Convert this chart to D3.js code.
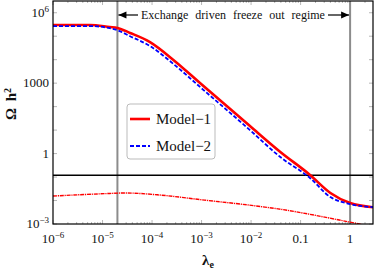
<!DOCTYPE html>
<html>
<head>
<meta charset="utf-8">
<script src="https://cdn.jsdelivr.net/npm/d3@7"></script>
<style>
    body { margin: 0; background: #fff; }
    svg { display: block; }
    svg text { font-family: 'Liberation Serif', 'DejaVu Serif', serif; fill: #111; }
</style>
</head>
<body>
<svg id="chart" width="374" height="273"></svg>
<script>
'use strict';

// Data
const lambdaVals = [1e-6, 5.6e-6, 1.4e-5, 2e-5, 3.6e-5, 9.1e-5, 2.7e-4, 9.3e-4, 9.5e-3, 0.039, 0.155, 0.4, 1.0, 2.9];
const model1 = [3.0e5, 3.0e5, 2.45e5, 2.24e5, 1.38e5, 5.6e4, 9800, 1020, 14.8, 1.17, 0.123, 0.021, 0.0078, 0.0052];
const model2 = [2.7e5, 2.7e5, 2.2e5, 1.8e5, 1.0e5, 3.8e4, 6600, 690, 10, 0.71, 0.091, 0.014, 0.0071, 0.0052];

const lambdaLow = [1e-6, 1.4e-5, 2.8e-5, 1.5e-4, 1.15e-3, 8.5e-3, 0.035, 1.0, 2.0];
const lowerCurve = [0.0155, 0.020, 0.021, 0.017, 0.0104, 0.0065, 0.0044, 0.0012, 0.0009];

const planckValue = 0.12;
const regimeBounds = [2e-5, 1.0];

const xTicks = [1e-6, 1e-5, 1e-4, 1e-3, 1e-2, 0.1, 1];
const xTickLabels = ['10^-6', '10^-5', '10^-4', '10^-3', '10^-2', '0.1', '1'];
const yTicks = [1e-3, 1, 1000, 1e6];
const yTickLabels = ['10^-3', '1', '1000', '10^6'];

const seriesNames = ['Model\u22121', 'Model\u22122'];

(function () {

    const svg = d3.select('#chart');

    // Plot box
    const box = {'left': 53, 'right': 373, 'top': 1, 'bottom': 224};

    const scX = d3.scaleLog()
        .domain([1e-6, 2.9])
        .range([box.left, box.right]);

    const scY = d3.scaleLog()
        .domain([1e-3, Math.pow(10, 6.5)])
        .range([box.bottom, box.top]);

    svg.append('defs').append('clipPath')
        .attr('id', 'clip')
        .append('rect')
            .attr('x', box.left)
            .attr('y', box.top)
            .attr('width', box.right - box.left)
            .attr('height', box.bottom - box.top);

    // Write "10^-6" style labels with a superscript
    function powLabel(sel, str, supSize) {
        const parts = str.split('^');
        sel.append('tspan').text(parts[0]);
        if (parts.length > 1) {
            sel.append('tspan')
                .attr('dy', '-0.55em')
                .style('font-size', supSize)
                .text(parts[1].replace('-', '\u2212'));
        }
    }

    // Ticks (inward, on all sides)
    const tickG = svg.append('g').attr('class', 'ticks')
        .attr('stroke', '#999').attr('stroke-width', 0.7);

    const xMinor = [];
    for (let e = -6; e <= 0; e++) {
        for (let m = 2; m <= 9; m++) {
            const v = m * Math.pow(10, e);
            if (v <= 2.9) xMinor.push(v);
        }
    }
    xMinor.forEach((v) => {
        [[box.bottom, -2], [box.top, 2]].forEach(([y0, dy]) => {
            tickG.append('line')
                .attr('x1', scX(v)).attr('x2', scX(v))
                .attr('y1', y0).attr('y2', y0 + dy);
        });
    });
    xTicks.forEach((v) => {
        [[box.bottom, -4], [box.top, 4]].forEach(([y0, dy]) => {
            tickG.append('line')
                .attr('x1', scX(v)).attr('x2', scX(v))
                .attr('y1', y0).attr('y2', y0 + dy);
        });
    });
    for (let e = -3; e <= 6; e++) {
        const v = Math.pow(10, e);
        [[box.left, 4], [box.right, -4]].forEach(([x0, dx]) => {
            tickG.append('line')
                .attr('x1', x0).attr('x2', x0 + dx)
                .attr('y1', scY(v)).attr('y2', scY(v));
        });
    }

    // Tick labels
    xTicks.forEach((v, i) => {
        const t = svg.append('text')
            .attr('x', scX(v))
            .attr('y', 243)
            .attr('text-anchor', 'middle')
            .style('font-size', '13px');
        powLabel(t, xTickLabels[i], '9px');
    });
    yTicks.forEach((v, i) => {
        const t = svg.append('text')
            .attr('x', 49)
            .attr('y', scY(v) + 4)
            .attr('text-anchor', 'end')
            .style('font-size', '13px');
        powLabel(t, yTickLabels[i], '9px');
    });

    // Axis titles
    const xt = svg.append('text')
        .attr('x', 208)
        .attr('y', 265)
        .attr('text-anchor', 'middle')
        .style('font-size', '15px')
        .style('font-weight', 'bold');
    xt.append('tspan').text('\u03bb');
    xt.append('tspan').attr('dy', '0.3em').style('font-size', '10px').text('e');

    const yt = svg.append('text')
        .attr('transform', 'translate(16, 104) rotate(-90)')
        .attr('text-anchor', 'middle')
        .style('font-size', '15px')
        .style('font-weight', 'bold')
        .style('word-spacing', '3px');
    yt.append('tspan').text('\u03a9 h');
    yt.append('tspan').attr('dy', '-0.5em').style('font-size', '10px').text('2');

    // Plot content
    const plot = svg.append('g').attr('clip-path', 'url(#clip)');

    regimeBounds.forEach((v) => {
        plot.append('line')
            .attr('x1', scX(v)).attr('x2', scX(v))
            .attr('y1', box.top).attr('y2', box.bottom)
            .attr('stroke', '#8c8c8c')
            .attr('stroke-width', 2);
    });

    plot.append('line')
        .attr('x1', box.left).attr('x2', box.right)
        .attr('y1', scY(planckValue)).attr('y2', scY(planckValue))
        .attr('stroke', '#000')
        .attr('stroke-width', 1.5);

    const line = d3.line()
        .x((d) => scX(d[0]))
        .y((d) => scY(d[1]))
        .curve(d3.curveMonotoneX);

    plot.append('path')
        .datum(lambdaLow.map((l, i) => [l, lowerCurve[i]]))
        .attr('d', line)
        .attr('fill', 'none')
        .attr('stroke', '#ff0000')
        .attr('stroke-width', 1.4)
        .attr('stroke-dasharray', '4,0.8,1.2,0.8');

    plot.append('path')
        .datum(lambdaVals.map((l, i) => [l, model1[i]]))
        .attr('d', line)
        .attr('fill', 'none')
        .attr('stroke', '#ff0000')
        .attr('stroke-width', 2.6);

    plot.append('path')
        .datum(lambdaVals.map((l, i) => [l, model2[i]]))
        .attr('d', line)
        .attr('fill', 'none')
        .attr('stroke', '#0000ff')
        .attr('stroke-width', 1.8)
        .attr('stroke-dasharray', '4,2');

    // Frame
    svg.append('rect')
        .attr('x', box.left).attr('y', box.top)
        .attr('width', box.right - box.left)
        .attr('height', box.bottom - box.top)
        .attr('fill', 'none')
        .attr('stroke', '#000')
        .attr('stroke-width', 1.2);

    // Regime annotation with arrows
    const ann = svg.append('g').style('font-size', '12px');
    ann.append('text')
        .attr('x', 141)
        .attr('y', 19)
        .style('word-spacing', '4px')
        .text('Exchange driven freeze out regime');

    const arrowY = 15;
    [[138, scX(regimeBounds[0]) + 1], [328, scX(regimeBounds[1]) - 1]].forEach(([x0, x1]) => {
        ann.append('line')
            .attr('x1', x0).attr('x2', x1)
            .attr('y1', arrowY).attr('y2', arrowY)
            .attr('stroke', '#000').attr('stroke-width', 1.2);
        const dir = x1 > x0 ? -1 : 1;
        ann.append('path')
            .attr('d', `M${x1},${arrowY} L${x1 + dir * 8},${arrowY - 3.5} L${x1 + dir * 8},${arrowY + 3.5} Z`)
            .attr('fill', '#000');
    });

    // Legend
    const leg = svg.append('g');
    leg.append('rect')
        .attr('x', 127).attr('y', 104)
        .attr('width', 88).attr('height', 55)
        .attr('rx', 3)
        .attr('fill', '#fff')
        .attr('stroke', '#bbb')
        .attr('stroke-width', 1);
    const legStyles = [
        {'color': '#ff0000', 'width': 2.6, 'dash': null},
        {'color': '#0000ff', 'width': 1.8, 'dash': '4,2'}
    ];
    seriesNames.forEach((name, i) => {
        const y = 119 + i * 27;
        leg.append('line')
            .attr('x1', 130).attr('x2', 150)
            .attr('y1', y).attr('y2', y)
            .attr('stroke', legStyles[i].color)
            .attr('stroke-width', legStyles[i].width)
            .attr('stroke-dasharray', legStyles[i].dash);
        leg.append('text')
            .attr('x', 156)
            .attr('y', y + 5)
            .style('font-size', '15px')
            .text(name);
    });

})();
</script>
</body>
</html>
